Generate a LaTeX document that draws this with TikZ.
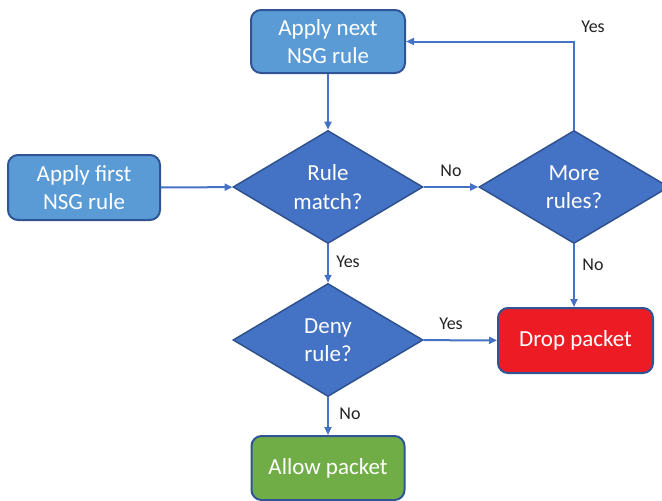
\documentclass[tikz,border=0pt]{standalone}
\usepackage{fontspec}
\setmainfont{Carlito}
\usetikzlibrary{shapes.geometric,arrows.meta}
\definecolor{boxfill}{HTML}{5B9BD5}
\definecolor{boxline}{HTML}{2F5597}
\definecolor{diafill}{HTML}{4472C4}
\definecolor{dialine}{HTML}{2F528F}
\definecolor{dropfill}{HTML}{ED1C24}
\definecolor{allowfill}{HTML}{70AD47}
\definecolor{arrowc}{HTML}{4472C4}
\definecolor{lblc}{HTML}{222222}
\begin{document}
\begin{tikzpicture}[x=1pt,y=-1pt,
  shapetext/.style={text=white,font=\fontsize{23}{28.5}\selectfont,align=center},
  procbox/.style={shapetext,draw=boxline,line width=2pt,rounded corners=10pt,inner sep=0pt},
  decision/.style={shapetext,diamond,draw=dialine,fill=diafill,line width=1.5pt,aspect=1.68,inner sep=0pt,minimum width=190pt,minimum height=113pt},
  conn/.style={draw=arrowc,line width=2pt,-{Triangle[length=8pt,width=7pt]}},
  lbl/.style={text=lblc,font=\fontsize{18}{20}\selectfont,inner sep=0pt}
]
\useasboundingbox (0,0) rectangle (662,501);
\node[procbox,fill=boxfill,minimum width=154pt,minimum height=63pt] (next) at (328,41.5) {Apply next\\NSG rule};
\node[procbox,fill=boxfill,minimum width=152pt,minimum height=65pt] (first) at (84,187.5) {Apply first\\NSG rule};
\node[decision] (match) at (328,187) {Rule\\match?};
\node[decision] (more) at (574,187) {More\\rules?};
\node[decision] (deny) at (328,340) {Deny\\rule?};
\node[procbox,fill=dropfill,minimum width=155pt,minimum height=65pt] (drop) at (575.5,340.5) {Drop packet};
\node[procbox,fill=allowfill,minimum width=153pt,minimum height=64pt] (allow) at (328,468) {Allow packet};

\draw[conn] (next) -- (match);
\draw[conn] (first) -- (match);
\draw[conn] (match) -- (more);
\draw[conn] (more.north) |- (next.east);
\draw[conn] (more.south) -- (more.south |- drop.north);
\draw[conn] (match) -- (deny);
\draw[conn] (deny) -- (drop);
\draw[conn] (deny) -- (allow);

\node[lbl] (l1) at (451,171) {No};
\node[lbl] (l2) at (593,27) {Yes};
\node[lbl] (l3) at (593,265) {No};
\node[lbl] (l4) at (348,262) {Yes};
\node[lbl] (l5) at (451,324) {Yes};
\node[lbl] (l6) at (350,414) {No};
\end{tikzpicture}
\end{document}
